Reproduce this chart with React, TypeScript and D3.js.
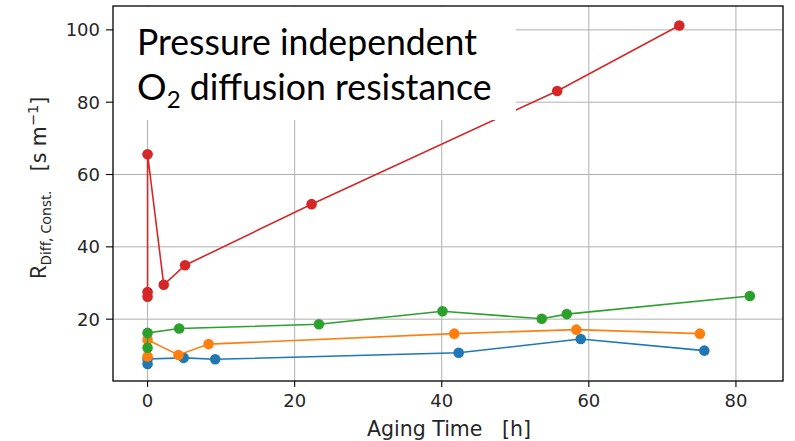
import React from "react";
import * as d3 from "d3";

const xTicks = [0, 20, 40, 60, 80];
const yTicks = [20, 40, 60, 80, 100];

const blueX = [0, 0, 4.9, 9.2, 42.3, 58.9, 75.7];
const blueY = [7.6, 9.0, 9.3, 8.9, 10.7, 14.5, 11.3];

const orangeX = [0, 0, 4.2, 8.3, 41.7, 58.3, 75.1];
const orangeY = [9.7, 14.3, 10.1, 13.1, 16.0, 17.1, 16.0];

const greenX = [0, 0, 4.3, 23.3, 40.1, 53.6, 57.0, 81.9];
const greenY = [12.1, 16.2, 17.4, 18.6, 22.2, 20.1, 21.4, 26.4];

const redX = [0, 0, 0, 2.2, 5.1, 22.3, 55.7, 72.3];
const redY = [26.2, 27.5, 65.6, 29.5, 34.9, 51.8, 83.1, 101.2];

const seriesColors = ["#1f77b4", "#ff7f0e", "#2ca02c", "#d62728"];

const W = 795;
const H = 441;
const L = 113, R = 783, T = 6, B = 381;

export default function App() {
  const x = d3.scaleLinear().domain([-4.7, 86.4]).range([L, R]);
  const y = d3.scaleLinear().domain([2.9, 106.6]).range([B, T]);
  const series = [
    { xs: blueX, ys: blueY },
    { xs: orangeX, ys: orangeY },
    { xs: greenX, ys: greenY },
    { xs: redX, ys: redY },
  ];
  const line = d3
    .line<[number, number]>()
    .x((d) => x(d[0]))
    .y((d) => y(d[1]));
  const tickFont = "DejaVu Sans";
  const titleFont = "Lato";
  return (
    <svg
      width={W}
      height={H}
      style={{ position: "absolute", left: 0, top: 0, background: "#fff" }}
    >
      <rect x={0} y={0} width={W} height={H} fill="#fff" />
      {xTicks.map((t) => (
        <line key={"gx" + t} x1={x(t)} x2={x(t)} y1={T} y2={B} stroke="#b0b0b0" strokeWidth={1} />
      ))}
      {yTicks.map((t) => (
        <line key={"gy" + t} x1={L} x2={R} y1={y(t)} y2={y(t)} stroke="#b0b0b0" strokeWidth={1} />
      ))}
      {series.map((s, i) => {
        const pts: [number, number][] = s.xs.map((v, j) => [v, s.ys[j]]);
        return (
          <g key={i}>
            <path d={line(pts) || ""} fill="none" stroke={seriesColors[i]} strokeWidth={1.6} />
            {pts.map((p, j) => (
              <circle key={j} cx={x(p[0])} cy={y(p[1])} r={5.3} fill={seriesColors[i]} />
            ))}
          </g>
        );
      })}
      <rect x={L} y={T} width={R - L} height={B - T} fill="none" stroke="#000" strokeWidth={1.3} />
      {xTicks.map((t) => (
        <g key={"xt" + t}>
          <line x1={x(t)} x2={x(t)} y1={B} y2={B + 6} stroke="#000" strokeWidth={1.1} />
          <text x={x(t)} y={B + 26} textAnchor="middle" fontFamily={tickFont} fontSize={18} fill="#262626">
            {t}
          </text>
        </g>
      ))}
      {yTicks.map((t) => (
        <g key={"yt" + t}>
          <line x1={L - 7} x2={L} y1={y(t)} y2={y(t)} stroke="#000" strokeWidth={1.1} />
          <text x={L - 13} y={y(t) + 6.5} textAnchor="end" fontFamily={tickFont} fontSize={18} fill="#262626">
            {t}
          </text>
        </g>
      ))}
      <text x={449} y={436} textAnchor="middle" fontFamily={tickFont} fontSize={20.5} fill="#262626" xmlSpace="preserve">
        {"Aging Time   [h]"}
      </text>
      <text
        transform="translate(46,188) rotate(-90)"
        textAnchor="middle"
        fontSize={20.5}
        fill="#262626"
        xmlSpace="preserve"
      >
        <tspan fontFamily="Noto Sans" fontSize={22}>R</tspan>
        <tspan fontFamily="Noto Sans" fontSize={14.5} dy={5}>Diff, Const.</tspan>
        <tspan fontFamily={tickFont} dy={-5}>{"   [s m"}</tspan>
        <tspan fontFamily={tickFont} fontSize={14.5} dy={-8}>−1</tspan>
        <tspan fontFamily={tickFont} dy={8}>]</tspan>
      </text>
      <rect x={114} y={7} width={402} height={113} fill="#fff" />
      <text fontFamily={titleFont} fontSize={37} fill="#000">
        <tspan x={137} y={55} textLength={340} lengthAdjust="spacingAndGlyphs">Pressure independent</tspan>
        <tspan x={137} y={100}>O</tspan>
        <tspan fontSize={24} dy={8}>2</tspan>
        <tspan dy={-8} textLength={311} lengthAdjust="spacingAndGlyphs"> diffusion resistance</tspan>
      </text>
    </svg>
  );
}
